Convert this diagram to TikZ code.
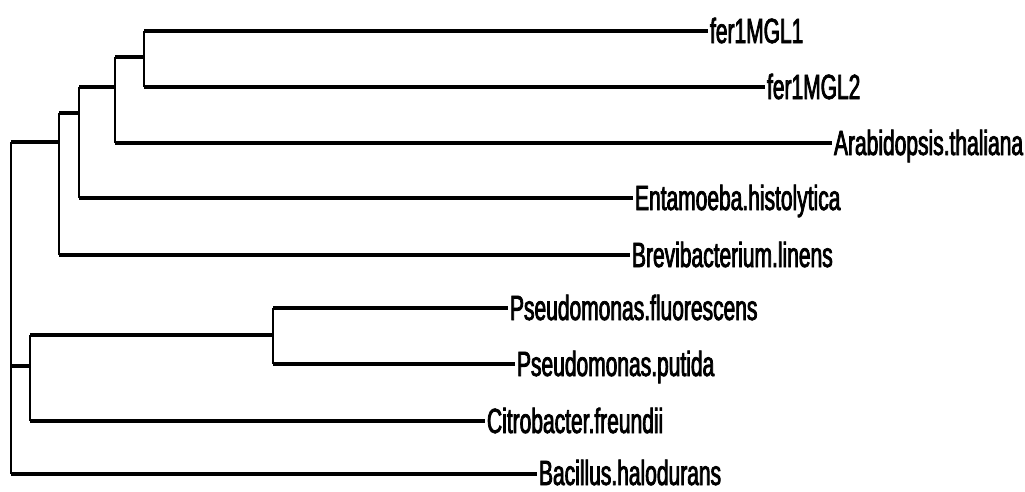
\documentclass[tikz,border=0pt]{standalone}
\usepackage{fontspec}
\newfontfamily\labfont[FakeStretch=0.6,FakeBold=2.2]{Liberation Sans}
\begin{document}
\begin{tikzpicture}[x=1pt,y=-1pt,
  hbr/.style={line width=3.4pt,line cap=square},
  vbr/.style={line width=2pt,line cap=square},
  leaflab/.style={anchor=base west,inner sep=0pt,outer sep=0pt,
    font=\labfont\fontsize{35}{35}\selectfont,xshift=2pt}]
\useasboundingbox[fill=white] (0,0) rectangle (1025,491);
% internal nodes (stem positions)
\coordinate (root) at (11,142);
\coordinate (d) at (59,142);
\coordinate (c) at (79,113);
\coordinate (b) at (115,87);
\coordinate (a) at (144,57);
\coordinate (e) at (273,335);
\coordinate (f) at (30,366);
% leaf tips
\coordinate (t1) at (708,31);
\coordinate (t2) at (765,87);
\coordinate (t3) at (832,143);
\coordinate (t4) at (633,198);
\coordinate (t5) at (630,255);
\coordinate (t6) at (508,308);
\coordinate (t7) at (515,364);
\coordinate (t8) at (485,421);
\coordinate (t9) at (537,474);
% labels
\node[leaflab] (L1) at ([yshift=-12pt]t1) {fer1MGL1};
\node[leaflab] (L2) at ([yshift=-12pt]t2) {fer1MGL2};
\node[leaflab] (L3) at ([yshift=-12pt]t3) {Arabidopsis.thaliana};
\node[leaflab] (L4) at ([yshift=-12pt]t4) {Entamoeba.histolytica};
\node[leaflab] (L5) at ([yshift=-12pt]t5) {Brevibacterium.linens};
\node[leaflab] (L6) at ([yshift=-12pt]t6) {Pseudomonas.fluorescens};
\node[leaflab] (L7) at ([yshift=-12pt]t7) {Pseudomonas.putida};
\node[leaflab] (L8) at ([yshift=-12pt]t8) {Citrobacter.freundii};
\node[leaflab] (L9) at ([yshift=-11pt]t9) {Bacillus.halodurans};
% vertical bars
\draw[vbr] (a |- t1) -- (a |- t2);
\draw[vbr] (b |- a) -- (b |- t3);
\draw[vbr] (c |- b) -- (c |- t4);
\draw[vbr] (d |- c) -- (d |- t5);
\draw[vbr] (e |- t6) -- (e |- t7);
\draw[vbr] (f |- e) -- (f |- t8);
\draw[vbr] (root |- d) -- (root |- t9);
% horizontal branches
\draw[hbr] (a |- t1) -- (t1);
\draw[hbr] (a |- t2) -- (t2);
\draw[hbr] (b |- a) -- (a);
\draw[hbr] (b |- t3) -- (t3);
\draw[hbr] (c |- b) -- (b);
\draw[hbr] (c |- t4) -- (t4);
\draw[hbr] (d |- c) -- (c);
\draw[hbr] (d |- t5) -- (t5);
\draw[hbr] (root) -- (d);
\draw[hbr] (e |- t6) -- (t6);
\draw[hbr] (e |- t7) -- (t7);
\draw[hbr] (f |- e) -- (e);
\draw[hbr] (f |- t8) -- (t8);
\draw[hbr] (root |- f) -- (f);
\draw[hbr] (root |- t9) -- (t9);
\end{tikzpicture}
\end{document}
